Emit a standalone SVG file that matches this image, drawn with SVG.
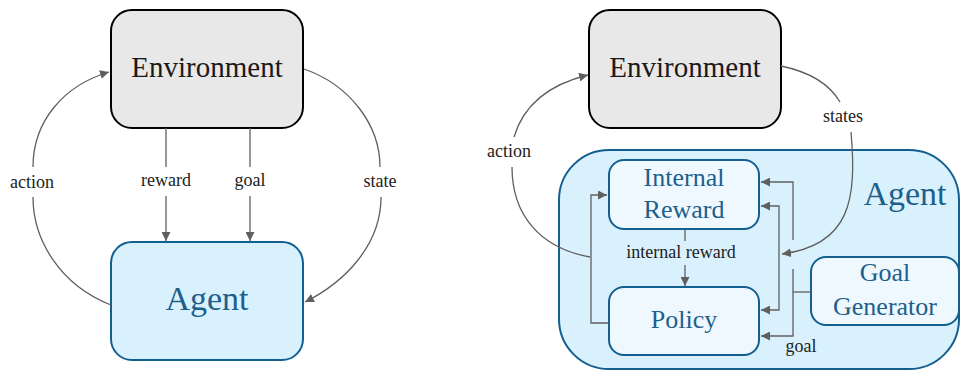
<svg xmlns="http://www.w3.org/2000/svg" width="960" height="371" viewBox="0 0 960 371" font-family="Liberation Serif, serif">
<style>
text{font-family:'Liberation Serif',serif;text-anchor:middle}
.env{fill:#e8e8e8;stroke:#000;stroke-width:2}
.agent{fill:#d9f1fd;stroke:#135f8f;stroke-width:2}
.sub{fill:#eef8fe;stroke:#135f8f;stroke-width:2}
.big{font-size:29px;fill:#1a1a1a}
.ag{font-size:34px;fill:#1d5f8c}
.st{font-size:26px;fill:#1d5f8c}
.lbl{font-size:18px;fill:#222}
.c{fill:none;stroke:#5f5f5f;stroke-width:1.3}
.ca{fill:none;stroke:#5f5f5f;stroke-width:1.3;marker-end:url(#ah)}
</style>
<defs>
<marker id="ah" markerUnits="userSpaceOnUse" markerWidth="10" markerHeight="9" refX="9" refY="4.5" orient="auto">
<path d="M0,0 L9,4.5 L0,9 z" fill="#5f5f5f"/>
</marker>
</defs>
<rect width="960" height="371" fill="#fff"/>

<g id="env1">
<rect class="env" x="111" y="10" width="192" height="118" rx="21"/>
<text class="big" style="font-family:'Liberation Serif',serif" x="207" y="77">Environment</text>
</g>
<g id="agent1">
<rect class="agent" x="111" y="242" width="192" height="118" rx="21"/>
<text class="ag" style="font-family:'Liberation Serif',serif" x="207" y="310">Agent</text>
</g>

<g id="env2">
<rect class="env" x="589" y="10" width="192" height="118" rx="21"/>
<text class="big" style="font-family:'Liberation Serif',serif" x="685" y="77">Environment</text>
</g>
<g id="agent2">
<rect class="agent" x="559" y="150" width="400" height="219" rx="50"/>
<text class="ag" style="font-family:'Liberation Serif',serif" x="905" y="205">Agent</text>
</g>
<g id="internalReward">
<rect class="sub" x="609" y="160" width="150" height="69" rx="15"/>
<text class="st" style="font-family:'Liberation Serif',serif" x="684" y="186">Internal</text>
<text class="st" style="font-family:'Liberation Serif',serif" x="684" y="218">Reward</text>
</g>
<g id="policy">
<rect class="sub" x="609" y="287" width="150" height="68" rx="15"/>
<text class="st" style="font-family:'Liberation Serif',serif" x="684" y="328">Policy</text>
</g>
<g id="goalGenerator">
<rect class="sub" x="811" y="257" width="148" height="68" rx="15"/>
<text class="st" style="font-family:'Liberation Serif',serif" x="885" y="281">Goal</text>
<text class="st" style="font-family:'Liberation Serif',serif" x="885" y="315">Generator</text>
</g>

<g id="connectors">
<path class="c" d="M166,128 V167"/>
<path class="ca" d="M166,196 V241"/>
<path class="c" d="M250,128 V167"/>
<path class="ca" d="M250,196 V241"/>
<path class="c" d="M111,305 C60,285 33,240 33,197"/>
<path class="ca" d="M33,167 C33,120 65,85 109,72"/>
<path class="c" d="M304,69 C350,85 380,125 380,167"/>
<path class="ca" d="M381,197 C381,245 345,282 305,302"/>
<text class="lbl" style="font-family:'Liberation Serif',serif" x="32" y="188">action</text>
<text class="lbl" style="font-family:'Liberation Serif',serif" x="166" y="186">reward</text>
<text class="lbl" style="font-family:'Liberation Serif',serif" x="250" y="186">goal</text>
<text class="lbl" style="font-family:'Liberation Serif',serif" x="380" y="187">state</text>

<path class="c" d="M590,257 C540,248 512,215 512,167"/>
<path class="ca" d="M514,137 C525,100 555,83 588,75"/>
<path class="c" d="M781,66 C810,72 830,85 840,102"/>
<path class="ca" d="M851,132 C857,200 850,245 782,254"/>
<text class="lbl" style="font-family:'Liberation Serif',serif" x="509" y="157">action</text>
<text class="lbl" style="font-family:'Liberation Serif',serif" x="843" y="122">states</text>

<path class="ca" d="M609,323 H591 V195 H607"/>
<path class="c" d="M685,229 V241"/>
<path class="ca" d="M685,265 V286"/>
<text class="lbl" style="font-family:'Liberation Serif',serif" x="681" y="258">internal reward</text>

<path class="ca" d="M779,254 V206 H761"/>
<path class="ca" d="M779,254 V310 H761"/>
<path class="ca" d="M793,240 V182 H761"/>
<path class="c" d="M811,292 H793"/>
<path class="ca" d="M793,269 V336 H761"/>
<text class="lbl" style="font-family:'Liberation Serif',serif" x="801" y="352">goal</text>
</g>
</svg>
